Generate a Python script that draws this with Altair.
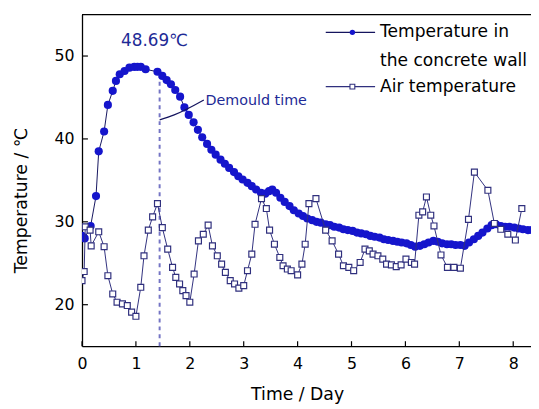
import altair as alt
import pandas as pd

# ---- data ----
concrete_t = [0.00, 0.05, 0.16, 0.26, 0.31, 0.41, 0.48, 0.57, 0.63, 0.70, 0.79, 0.88, 0.97, 1.03, 1.09, 1.18,
              1.40, 1.49, 1.57, 1.65, 1.73, 1.82, 1.90, 1.98, 2.07, 2.15, 2.23, 2.32, 2.40, 2.48, 2.57, 2.65,
              2.73, 2.82, 2.90, 2.98, 3.07, 3.15, 3.23, 3.32, 3.40, 3.47, 3.53, 3.60, 3.68, 3.76, 3.85, 3.93,
              4.02, 4.10, 4.18, 4.27, 4.35, 4.43, 4.52, 4.60, 4.68, 4.77, 4.85, 4.93, 5.02, 5.10, 5.18, 5.27,
              5.35, 5.43, 5.52, 5.60, 5.68, 5.77, 5.85, 5.93, 6.02, 6.10, 6.18, 6.27, 6.35, 6.43, 6.52, 6.60,
              6.68, 6.77, 6.85, 6.93, 7.02, 7.10, 7.18, 7.27, 7.35, 7.43, 7.52, 7.60, 7.68, 7.77, 7.85, 7.93,
              8.02, 8.10, 8.18, 8.27, 8.35]
concrete_T = [28.3, 28.0, 29.5, 33.1, 38.5, 40.9, 44.1, 45.8, 47.0, 47.8, 48.2, 48.6, 48.69, 48.7, 48.7, 48.4,
              48.1, 47.6, 47.1, 46.6, 45.9, 45.1, 43.8, 42.9, 42.0, 41.1, 40.2, 39.4, 38.7, 38.1, 37.5, 37.0,
              36.5, 36.0, 35.5, 35.1, 34.7, 34.3, 33.9, 33.5, 33.4, 33.7, 33.9, 33.5, 32.9, 32.4, 31.9, 31.4,
              31.0, 30.7, 30.4, 30.2, 30.0, 29.9, 29.7, 29.6, 29.4, 29.3, 29.1, 29.0, 28.9, 28.7, 28.6, 28.5,
              28.3, 28.2, 28.1, 27.9, 27.8, 27.7, 27.6, 27.5, 27.4, 27.2, 27.0, 27.1, 27.3, 27.5, 27.7, 27.6,
              27.4, 27.3, 27.3, 27.2, 27.2, 27.1, 27.5, 27.9, 28.3, 28.7, 29.2, 29.6, 29.7, 29.5, 29.4, 29.4,
              29.3, 29.2, 29.1, 29.0, 29.0]

air_t = [0.00, 0.04, 0.06, 0.15, 0.17, 0.31, 0.41, 0.48, 0.57, 0.65, 0.75, 0.84, 0.92, 1.00, 1.09, 1.15,
         1.23, 1.31, 1.40, 1.49, 1.59, 1.68, 1.74, 1.81, 1.87, 1.93, 2.00, 2.08, 2.16, 2.25, 2.34, 2.42,
         2.51, 2.59, 2.66, 2.75, 2.83, 2.91, 3.00, 3.07, 3.15, 3.21, 3.33, 3.42, 3.48, 3.57, 3.67, 3.73,
         3.81, 3.88, 4.00, 4.08, 4.14, 4.21, 4.34, 4.52, 4.64, 4.76, 4.85, 4.95, 5.04, 5.16, 5.25, 5.33,
         5.40, 5.49, 5.58, 5.65, 5.74, 5.83, 5.92, 6.01, 6.11, 6.17, 6.25, 6.32, 6.39, 6.47, 6.53, 6.66,
         6.78, 6.90, 7.02, 7.17, 7.28, 7.53, 7.65, 7.77, 7.90, 8.04, 8.16]
air_T = [22.9, 24.0, 29.4, 29.0, 27.1, 28.8, 27.0, 23.5, 21.3, 20.3, 20.1, 19.9, 19.1, 18.6, 22.1, 25.9,
         29.0, 30.6, 32.2, 29.3, 26.7, 24.5, 23.3, 22.5, 21.7, 21.1, 20.3, 23.7, 27.7, 28.5, 29.6, 27.1,
         25.9, 24.9, 23.9, 22.9, 22.5, 22.0, 22.3, 24.1, 26.1, 29.7, 32.8, 31.6, 29.0, 27.3, 25.7, 24.7,
         24.3, 24.1, 23.6, 24.9, 27.3, 32.2, 32.8, 29.0, 27.7, 26.1, 24.7, 24.5, 24.1, 25.1, 26.7, 26.5,
         26.1, 25.9, 25.5, 24.9, 24.8, 24.6, 24.8, 25.5, 25.1, 24.9, 30.8, 31.2, 33.0, 30.8, 29.5, 26.0,
         24.5, 24.5, 24.4, 30.3, 36.0, 33.8, 29.8, 29.1, 28.5, 27.8, 31.6]

x_ticks = [0, 1, 2, 3, 4, 5, 6, 7, 8]
y_ticks = [20, 30, 40, 50]

series_names = ["Temperature in", "the concrete wall", "Air temperature"]
peak_label = "48.69\u2103"
demould_label = "Demould time"
demould_day = 1.44
peak_pos = (1.345, 51.8)
demould_text_pos = (2.29, 44.6)
leader_t = [1.44, 1.71, 2.26]
leader_T = [42.3, 42.9, 44.7]

# ---- styling ----
W, H = 455, 336
FONT = "DejaVu Sans"
BLUE = "#1515cc"
NAVY = "#14145e"
AIR = "#30307e"
ANN = "#1e2a96"

conc_df = pd.DataFrame({"t": concrete_t, "T": concrete_T})
air_df = pd.DataFrame({"t": air_t, "T": air_T})
xt_df = pd.DataFrame({"v": x_ticks})
yt_df = pd.DataFrame({"v": y_ticks})
lead_df = pd.DataFrame({"t": leader_t, "T": leader_T})
dummy = pd.DataFrame({"a": [0]})

xs = alt.Scale(domain=[0, 8.33], nice=False, zero=False)
ys = alt.Scale(domain=[15, 55], nice=False, zero=False)

x_axis = alt.Axis(values=x_ticks, title="Time / Day", ticks=False, grid=False, labelPadding=10,
                  labelFontSize=16, labelFont=FONT, labelColor="black", labelFlush=False,
                  titleFont=FONT, titleFontSize=17.5, titleFontWeight="normal", titleColor="black",
                  titleX=218, titleY=49, titleBaseline="middle", titleAnchor="start", titleAlign="center",
                  domainColor="black", domainWidth=1.3, format="d")
y_axis = alt.Axis(values=y_ticks, title="Temperature / \u2103", ticks=False, grid=False, labelPadding=8,
                  labelFontSize=16, labelFont=FONT, labelColor="black",
                  titleFont=FONT, titleFontSize=17.5, titleFontWeight="normal", titleColor="black",
                  titleX=-61, titleY=188, titleBaseline="middle", titleAlign="center", titleAngle=270,
                  domainColor="black", domainWidth=1.3)

X = alt.X("t:Q", scale=xs, axis=x_axis)
Y = alt.Y("T:Q", scale=ys, axis=y_axis)

conc_line = alt.Chart(conc_df).mark_line(color=NAVY, strokeWidth=1, clip=True).encode(x=X, y=Y)
conc_pts = alt.Chart(conc_df).mark_point(shape="circle", filled=True, color=BLUE, size=68, opacity=1,
                                         clip=True).encode(x="t:Q", y="T:Q")
air_line = alt.Chart(air_df).mark_line(color=AIR, strokeWidth=1, clip=True).encode(x="t:Q", y="T:Q")
air_pts = alt.Chart(air_df).mark_point(shape="square", filled=True, fill="white", stroke=AIR,
                                       strokeWidth=1.2, size=36, opacity=1, clip=True).encode(x="t:Q", y="T:Q")

xticks = alt.Chart(xt_df).mark_rule(color="black", strokeWidth=1.2).encode(
    x="v:Q", y=alt.value(H), y2=alt.value(H - 5))
yticks = alt.Chart(yt_df).mark_rule(color="black", strokeWidth=1.2).encode(
    y="v:Q", x=alt.value(0), x2=alt.value(6))

top_border = alt.Chart(dummy).mark_rule(color="black", strokeWidth=1.3).encode(
    x=alt.value(0), x2=alt.value(W), y=alt.value(0))

demould_rule = alt.Chart(dummy).mark_rule(color="#7474c4", strokeWidth=2, strokeDash=[4, 4]).encode(
    x=alt.datum(demould_day), y=alt.datum(15), y2=alt.datum(47.5))

leader = alt.Chart(lead_df).mark_line(color=NAVY, strokeWidth=1.2, interpolate="monotone").encode(
    x="t:Q", y="T:Q")

peak_txt = alt.Chart(dummy).mark_text(font=FONT, fontSize=17, color=ANN, align="center",
                                      baseline="middle").encode(
    x=alt.datum(peak_pos[0]), y=alt.datum(peak_pos[1]), text=alt.value(peak_label))
demould_txt = alt.Chart(dummy).mark_text(font=FONT, fontSize=14.5, color=ANN, align="left",
                                         baseline="middle").encode(
    x=alt.datum(demould_text_pos[0]), y=alt.datum(demould_text_pos[1]), text=alt.value(demould_label))

# legend (manual)
LX0, LX1, LM, LT = 247, 297, 274, 302
ly = [18, 47, 73]
leg_line1 = alt.Chart(dummy).mark_rule(color=NAVY, strokeWidth=1.2).encode(
    x=alt.value(LX0), x2=alt.value(LX1), y=alt.value(ly[0]))
leg_pt1 = alt.Chart(dummy).mark_point(shape="circle", filled=True, color=BLUE, size=30, opacity=1).encode(
    x=alt.value(LM), y=alt.value(ly[0]))
leg_line2 = alt.Chart(dummy).mark_rule(color=AIR, strokeWidth=1.2).encode(
    x=alt.value(LX0), x2=alt.value(LX1), y=alt.value(ly[2]))
leg_pt2 = alt.Chart(dummy).mark_point(shape="square", filled=True, fill="white", stroke=AIR,
                                      strokeWidth=1.1, size=24, opacity=1).encode(
    x=alt.value(LM), y=alt.value(ly[2]))
leg_txt = [alt.Chart(dummy).mark_text(font=FONT, fontSize=17.3, color="black", align="left",
                                      baseline="middle").encode(
    x=alt.value(LT), y=alt.value(yy), text=alt.value(s)) for s, yy in zip(series_names, ly)]

chart = alt.layer(
    conc_line, top_border, xticks, yticks, demould_rule, conc_pts, air_line, air_pts,
    leader, peak_txt, demould_txt, leg_line1, leg_pt1, leg_line2, leg_pt2, *leg_txt
).properties(
    width=W, height=H,
    padding={"left": 75, "top": 4, "right": 0, "bottom": 60},
    autosize=alt.AutoSizeParams(type="none"),
    background="white",
).configure_view(stroke=None)

chart.save("out.html", embed_options={"renderer": "svg", "actions": False})
